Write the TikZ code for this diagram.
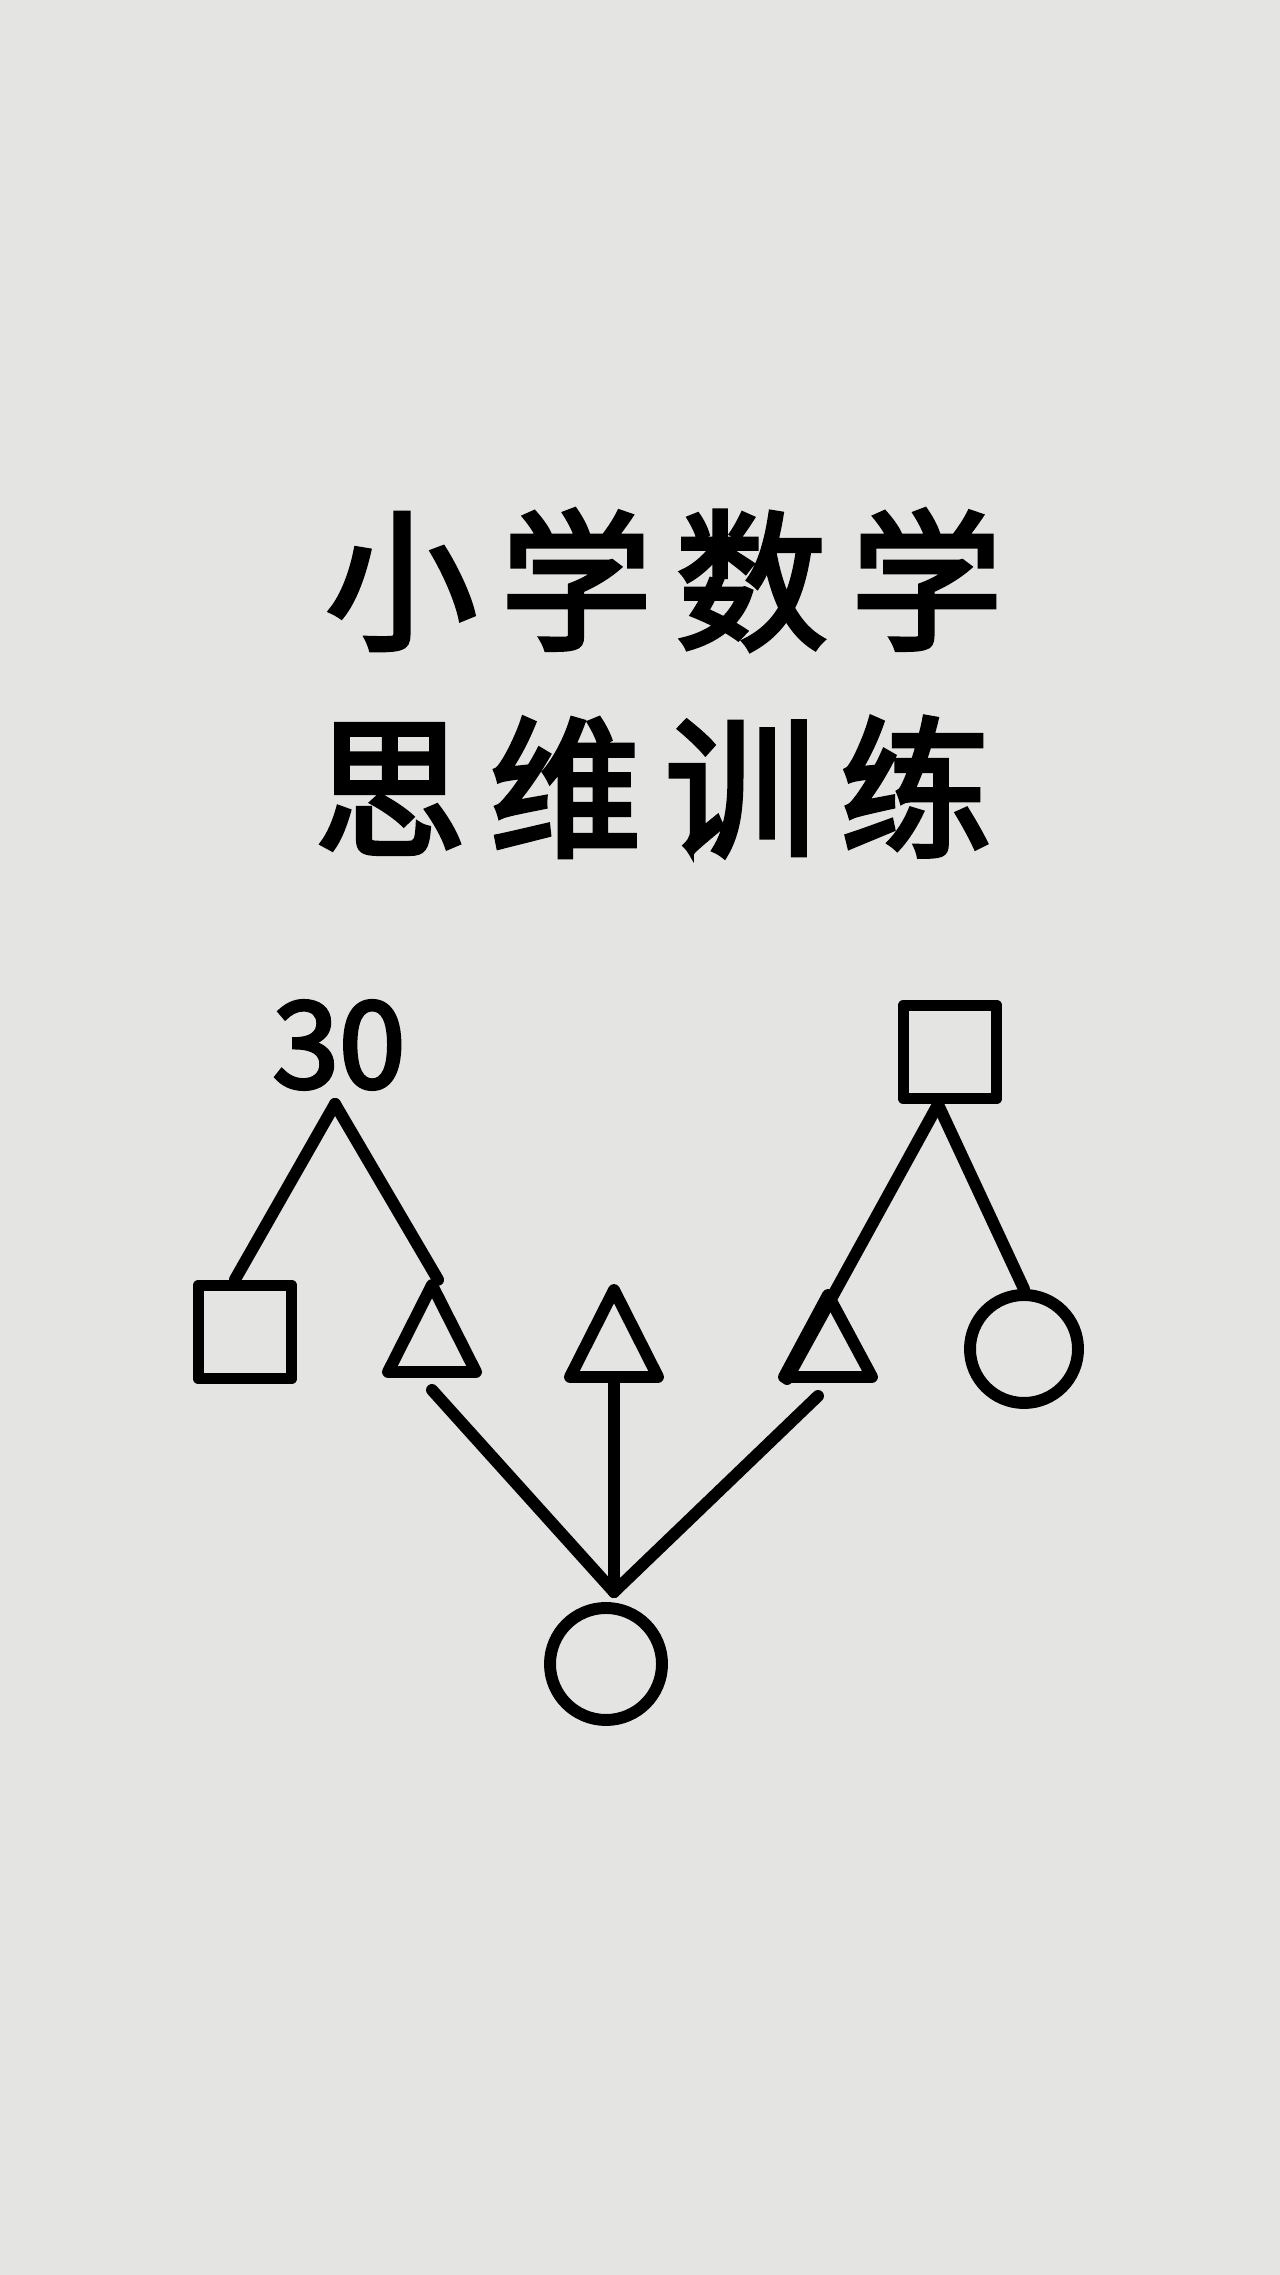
\documentclass[tikz,border=0pt]{standalone}
\usepackage{fontspec}
\newfontfamily\cjk[FakeBold=3.2]{Noto Sans CJK SC}
\usetikzlibrary{shapes.geometric}

\definecolor{paper}{HTML}{E4E4E2}

\tikzset{
  ink/.style={line width=3.4pt, line cap=round, line join=round, black},
  sqbox/.style={draw, ink, minimum size=0.93cm, inner sep=0pt},
  tribox/.style={draw, ink, isosceles triangle, shape border rotate=90,
                 isosceles triangle stretches, minimum width=0.88cm,
                 minimum height=0.87cm, inner sep=0pt},
  ringbox/.style={draw, ink, circle, minimum size=1.12cm, inner sep=0pt},
  titletext/.style={font=\cjk\fontsize{43}{50}\selectfont},
  numtext/.style={font=\cjk\fontsize{34}{40}\selectfont, inner sep=0pt},
}

\begin{document}
\begin{tikzpicture}
          \fill[paper] (0,0) rectangle (12.8,22.75);
          \useasboundingbox (0,0) rectangle (12.8,22.75);

          \node[titletext] (line1) at (6.64, 16.95) {小\hspace{0.24cm}学\hspace{0.24cm}数\hspace{0.24cm}学};
          \node[titletext] (line2) at (6.53, 14.88) {思\hspace{0.24cm}维\hspace{0.24cm}训\hspace{0.24cm}练};

          \node[numtext] (num) at (3.39, 12.30) {30};
          \coordinate (top) at (3.35, 11.71);
          \node[sqbox] (sqL) at (2.45, 9.43) {};
          \node[tribox, anchor=lower side] (triA) at (4.32, 8.97) {};
          \node[tribox, anchor=lower side] (triB) at (6.14, 8.92) {};
          \node[tribox, anchor=lower side, minimum height=0.82cm] (triC) at (8.28, 8.92) {};
          \node[sqbox] (sqR) at (9.50, 12.23) {};
          \node[ringbox, minimum size=1.08cm] (ringR) at (10.24, 9.26) {};
          \node[ringbox] (ringB) at (6.06, 6.11) {};
          \coordinate (join) at (6.14, 6.83);

          \draw[ink] (top) -- ([xshift=-0.1cm]sqL.north);
          \draw[ink, shorten >=-0.12cm] (top) -- (triA.apex);
          \draw[ink] ([xshift=-0.12cm]sqR.south) -- ([xshift=-0.41cm,yshift=0.04cm]triC.lower side);
          \draw[ink] ([xshift=-0.12cm]sqR.south) -- (ringR.north);

          \draw[ink] (join) -- ([yshift=-0.12cm]triA.lower side);
          \draw[ink] (join) -- (triB.lower side);
          \draw[ink] (join) -- ([xshift=-0.1cm,yshift=-0.13cm]triC.lower side);
        \end{tikzpicture}
\end{document}
